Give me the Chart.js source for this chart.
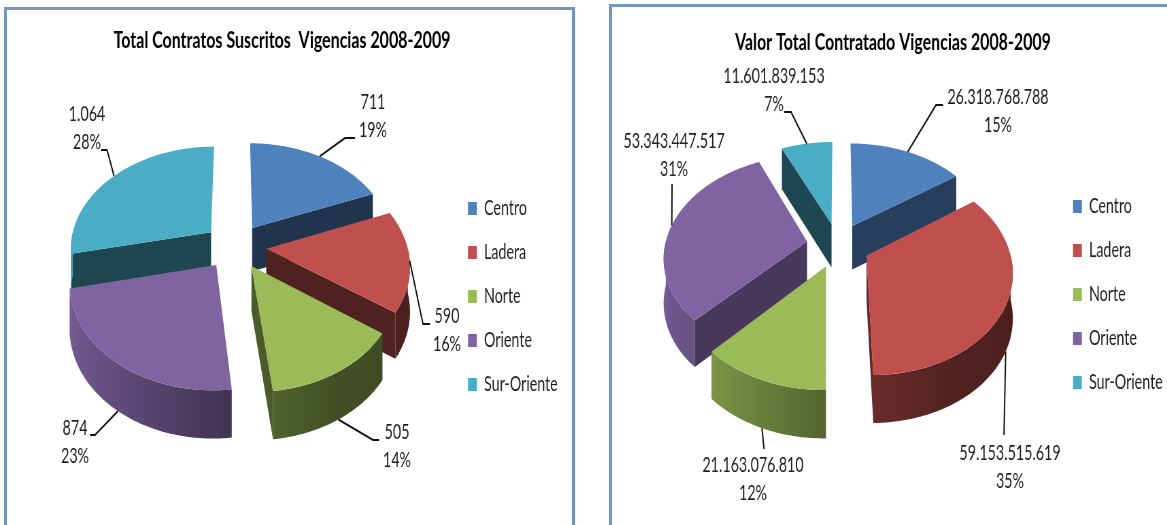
<!DOCTYPE html>
<html>
<head>
<meta charset="utf-8">
<script src="https://cdn.jsdelivr.net/npm/chart.js@4"></script>
<style>
html, body { margin: 0; background: #fff; overflow: hidden; width: 1167px; height: 525px; }
canvas { position: absolute; top: 0; transform-origin: 0 0; filter: blur(0.35px); }
.frame { position: absolute; border: 3px solid #7096c4; border-bottom: none; height: 540px; box-sizing: border-box; }
</style>
</head>
<body>
<div class="frame" style="left:4px;top:7px;width:571px"></div>
<div class="frame" style="left:609px;top:4px;width:600px"></div>
<canvas id="left"></canvas>
<canvas id="right"></canvas>
<script>
const categories = ['Centro', 'Ladera', 'Norte', 'Oriente', 'Sur-Oriente'];
const colors = ['#4f81bd', '#c0504d', '#9bbb59', '#8064a2', '#4bacc6'];

const contratos = [711, 590, 505, 874, 1064];
const contratosPct = [19, 16, 14, 23, 28];
const valor = [26318768788, 59153515619, 21163076810, 53343447517, 11601839153];
const valorPct = [15, 35, 12, 31, 7];

// text positions, page pixels
const contratosText = [[373, 102], [447, 316], [397, 432], [75, 428], [87, 114]];
const valorText = [[998, 97], [1010, 453], [753, 465], [674, 141], [774, 76]];
// leader line bends, page pixels
const contratosBends = [[[345, 138], [355, 138]], [[423, 324], [430, 324]], [[373, 440], [379, 440]], [[95, 435], [90, 435]], [[107, 150], [101, 150]]];
const valorBends = [[[936, 105], [943, 105]], [[1004, 435]], [[764, 449]], [[672, 184]], [[791, 112], [784, 112]]];

const squeeze = 0.68;   // the picture is narrowed horizontally, text too
const focal = 7;        // perspective, in pie radii
const lineGap = 28.5;
const outerLight = [[90, .38], [150, .42], [180, .55], [223, .8], [260, .93], [270, .95]];
const cutLight = [[130, .59], [144, .5], [158, .41], [250, .41], [266, .5]];

function lightAt(stops, deg) {
    if (deg <= stops[0][0]) return stops[0][1];
    for (let i = 1; i < stops.length; i++) {
        if (deg <= stops[i][0]) {
            const a = stops[i - 1], b = stops[i];
            return a[1] + (b[1] - a[1]) * (deg - a[0]) / (b[0] - a[0]);
        }
    }
    return stops[stops.length - 1][1];
}

function shade(hex, f) {
    const n = parseInt(hex.slice(1), 16);
    return `rgb(${(n >> 16) * f}, ${((n >> 8) & 255) * f}, ${(n & 255) * f})`;
}

// draws the arcs the library laid out as tilted 3d slices
const pie3d = {
    id: 'pie3d',
    afterLayout(chart, args, o) {
        const title = chart.titleBlock, legend = chart.legend;
        const titleCx = (o.titleX - o.pageX) / squeeze;
        title.left = titleCx - 400;
        title.right = titleCx + 400;
        title.top = o.titleY - title.height / 2;
        legend.left = (o.legendX - o.pageX) / squeeze - chart.options.plugins.legend.labels.padding;
        legend.right = chart.width;
        legend.top = o.legendY;
        legend.bottom = 525;
    },
    beforeDatasetsDraw(chart, args, o) {
        const ctx = chart.ctx;
        const meta = chart.getDatasetMeta(0);
        const slices = meta.data.map((arc, i) => {
            const p = arc.getProps(['x', 'y', 'startAngle', 'endAngle', 'outerRadius']);
            const a0 = p.startAngle + Math.PI / 2, a1 = p.endAngle + Math.PI / 2;
            const mid = (a0 + a1) / 2;
            const e = arc.options.offset / p.outerRadius;
            const project = (ang, r) => {
                const ux = r * Math.sin(ang) + e * Math.sin(mid);
                const uz = r * Math.cos(ang) + e * Math.cos(mid);
                const s = focal / (focal + uz);
                return { x: p.x + ux * s * o.radius / squeeze, y: p.y - uz * s * o.radius * o.tilt, h: o.depth * Math.sqrt(s) };
            };
            return { i, a0, a1, mid, project, color: arc.options.backgroundColor };
        });
        slices.sort((a, b) => Math.cos(b.mid) - Math.cos(a.mid));

        slices.forEach(sl => {
            const { a0, a1, project, color } = sl;
            const apex = project(0, 0);
            // cut faces
            [[a0, a0 - Math.PI / 2], [a1, a1 + Math.PI / 2]].forEach(([edge, normal]) => {
                if (Math.cos(normal) > -0.01) return;
                const q = project(edge, 1);
                let deg = normal * 180 / Math.PI;
                deg = ((deg % 360) + 360) % 360;
                ctx.fillStyle = shade(color, lightAt(cutLight, deg));
                ctx.beginPath();
                ctx.moveTo(apex.x, apex.y);
                ctx.lineTo(q.x, q.y);
                ctx.lineTo(q.x, q.y + q.h);
                ctx.lineTo(apex.x, apex.y + apex.h);
                ctx.closePath();
                ctx.fill();
            });
            // outer wall, front part only
            const from = Math.max(a0, Math.PI / 2), to = Math.min(a1, Math.PI * 1.5);
            if (to > from) {
                const pts = [];
                for (let k = 0; k <= 60; k++) pts.push(project(from + (to - from) * k / 60, 1));
                const xs = pts.map(q => q.x);
                const minX = Math.min(...xs), maxX = Math.max(...xs);
                const g = ctx.createLinearGradient(minX, 0, maxX, 0);
                for (let k = 0; k <= 6; k++) {
                    const deg = (from + (to - from) * k / 6) * 180 / Math.PI;
                    const t = (pts[k * 10].x - minX) / ((maxX - minX) || 1);
                    g.addColorStop(Math.min(1, Math.max(0, t)), shade(color, lightAt(outerLight, deg)));
                }
                ctx.fillStyle = g;
                ctx.beginPath();
                pts.forEach((q, k) => k ? ctx.lineTo(q.x, q.y) : ctx.moveTo(q.x, q.y));
                pts.slice().reverse().forEach(q => ctx.lineTo(q.x, q.y + q.h));
                ctx.closePath();
                ctx.fill();
            }
            // top face
            ctx.fillStyle = color;
            ctx.beginPath();
            ctx.moveTo(apex.x, apex.y);
            for (let k = 0; k <= 80; k++) {
                const q = project(a0 + (a1 - a0) * k / 80, 1);
                ctx.lineTo(q.x, q.y);
            }
            ctx.closePath();
            ctx.fill();
        });

        // leader lines and value labels
        ctx.strokeStyle = '#111';
        ctx.lineWidth = 2;
        ctx.font = o.font;
        ctx.textAlign = 'center';
        ctx.textBaseline = 'middle';
        slices.forEach(sl => {
            const q = sl.project(sl.mid, 1);
            ctx.beginPath();
            ctx.moveTo(q.x, Math.cos(sl.mid) < -0.3 ? q.y + q.h : q.y);
            o.bends[sl.i].forEach(b => ctx.lineTo((b[0] - o.pageX) / squeeze, b[1]));
            ctx.stroke();
            const t = o.text[sl.i];
            const x = (t[0] - o.pageX) / squeeze;
            ctx.fillStyle = '#1f1f1f';
            ctx.fillText(o.labels[sl.i], x, t[1]);
            ctx.fillText(o.pct[sl.i] + '%', x, t[1] + lineGap);
        });
        return false;
    }
};

function dotted(v) {
    return String(v).replace(/\B(?=(\d{3})+$)/g, '.');
}

function makePie(id, title, values, pct, text, bends, o) {
    const canvas = document.getElementById(id);
    canvas.width = Math.round(o.pageW / squeeze);
    canvas.height = 525;
    canvas.style.left = o.pageX + 'px';
    canvas.style.transform = `scaleX(${squeeze})`;
    const half = 150;
    const cxInt = (o.cx - o.pageX) / squeeze;
    return new Chart(canvas, {
        type: 'pie',
        data: {
            labels: categories,
            datasets: [{ data: values, backgroundColor: colors, borderWidth: 0, offset: 30 }]
        },
        plugins: [pie3d],
        options: {
            responsive: false,
            maintainAspectRatio: false,
            animation: false,
            layout: {
                padding: {
                    left: cxInt - half,
                    right: canvas.width - cxInt - half - 1,
                    top: o.cy - half - 28,
                    bottom: 525 - o.cy - half
                }
            },
            plugins: {
                title: {
                    display: true, text: title, color: '#000', padding: 0,
                    font: { family: 'Lato', weight: 'bold', size: 23.5, lineHeight: 1.2 }
                },
                legend: {
                    position: 'right', align: 'start', maxWidth: 1,
                    labels: {
                        boxWidth: 13, boxHeight: 13, padding: 23, color: '#1f1f1f',
                        font: { family: 'Lato', size: 21 }
                    }
                },
                tooltip: { enabled: false },
                pie3d: {
                    radius: o.radius, tilt: o.tilt, depth: o.depth, pageX: o.pageX,
                    titleX: o.titleX, titleY: o.titleY, legendX: o.legendX, legendY: o.legendY,
                    font: '21px Lato', text, bends, pct, labels: values.map(dotted)
                }
            }
        }
    });
}

makePie('left', 'Total Contratos Suscritos  Vigencias 2008-2009', contratos, contratosPct, contratosText, contratosBends, {
    pageX: 0, pageW: 585, cx: 235, cy: 246, radius: 141, tilt: 0.72, depth: 44,
    titleX: 282, titleY: 40, legendX: 468, legendY: 175
});
makePie('right', 'Valor Total Contratado Vigencias 2008-2009', valor, valorPct, valorText, valorBends, {
    pageX: 585, pageW: 582, cx: 838, cy: 245, radius: 142, tilt: 0.7, depth: 44,
    titleX: 893, titleY: 42, legendX: 1073, legendY: 173
});
</script>
</body>
</html>
